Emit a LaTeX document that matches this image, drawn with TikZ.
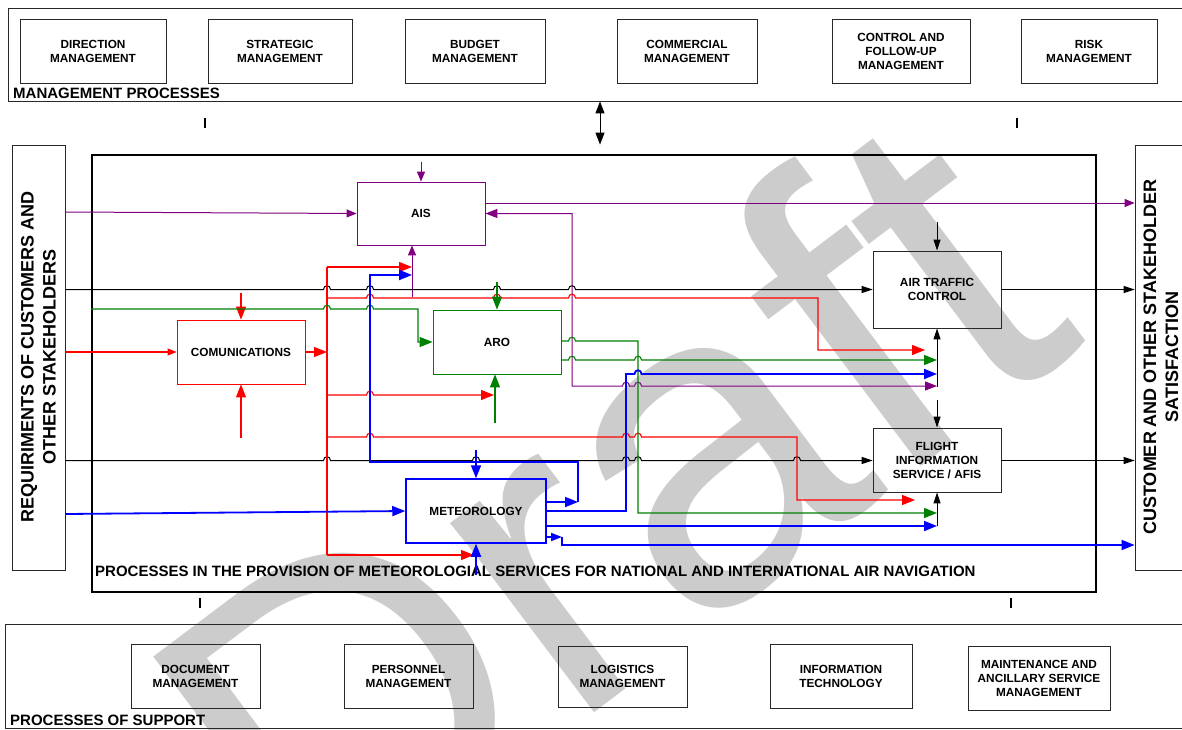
\documentclass[tikz,border=0pt]{standalone}
\usepackage{fontspec}
\setmainfont{Liberation Sans}
\usetikzlibrary{arrows.meta,calc}
\definecolor{pur}{RGB}{128,0,128}
\definecolor{grn}{RGB}{0,128,0}
\definecolor{blu}{RGB}{0,0,255}
\definecolor{rd}{RGB}{255,0,0}
\definecolor{wm}{RGB}{204,204,204}
\definecolor{frm}{RGB}{40,40,40}
\begin{document}
\begin{tikzpicture}[x=1pt,y=-1pt,
  box/.style={draw=frm, line width=0.8pt, inner sep=0pt, align=center,
    font=\bfseries\fontsize{11.8}{14}\selectfont},
  cont/.style={draw=frm, line width=0.8pt, inner sep=0pt},
  big/.style={font=\bfseries\fontsize{15}{18}\selectfont, inner sep=0pt},
  side/.style={font=\bfseries\fontsize{18}{22}\selectfont, align=center, rotate=90},
  bk/.style={draw=black, line width=1pt},
  pl/.style={draw=pur, line width=1pt},
  rl/.style={draw=rd, line width=1.1pt},
  gl/.style={draw=grn, line width=1.1pt},
  bl/.style={draw=blu, line width=1.8pt},
  ab/.style={-{Triangle[length=11pt,width=7pt]}},
  ac/.style={-{Triangle[length=13pt,width=10pt]}},
  as/.style={-{Triangle[length=10pt,width=8pt]}}]
\useasboundingbox (0,0) rectangle (1182,730);

% watermark
\node[text=wm, rotate=37, font=\fontsize{450}{450}\selectfont, inner sep=0pt] (wmk) at (603,505) {Draft};

% containers
\node[cont, minimum width=1182, minimum height=93] (mgmt) at (599,54.5) {};
\node[cont, minimum width=1185, minimum height=104] (supp) at (597.5,676) {};
\node[cont, minimum width=53, minimum height=425] (lbox) at (38.5,357.5) {};
\node[cont, minimum width=55, minimum height=425] (rbox) at (1162.5,357.5) {};
\node[draw=black, line width=1.6pt, inner sep=0pt, minimum width=1004, minimum height=437] (main) at (594,373.5) {};

\node[big, anchor=base west] (mgmtl) at (13,99) {MANAGEMENT PROCESSES};
\node[big, anchor=base west] (suppl) at (10,725) {PROCESSES OF SUPPORT};
\node[big, anchor=base west] (mainl) at (95,576) {PROCESSES IN THE PROVISION OF METEOROLOGIAL SERVICES FOR NATIONAL AND INTERNATIONAL AIR NAVIGATION};
\node[side] (lt) at (38.5,357) {REQUIRIMENTS OF CUSTOMERS AND\\OTHER STAKEHOLDERS};
\node[side] (rt) at (1161,357) {CUSTOMER AND OTHER STAKEHOLDER\\SATISFACTION};

% management boxes
\node[box, minimum width=146, minimum height=64] (dir) at (93,51) {DIRECTION\\MANAGEMENT};
\node[box, minimum width=144, minimum height=64] (str) at (280,51) {STRATEGIC\\MANAGEMENT};
\node[box, minimum width=140, minimum height=64] (bud) at (475,51) {BUDGET\\MANAGEMENT};
\node[box, minimum width=140, minimum height=64] (com) at (687,51) {COMMERCIAL\\MANAGEMENT};
\node[box, minimum width=138, minimum height=64] (ctl) at (901,51) {CONTROL AND\\FOLLOW-UP\\MANAGEMENT};
\node[box, minimum width=136, minimum height=64] (risk) at (1089,51) {RISK\\MANAGEMENT};

% support boxes
\node[box, minimum width=129, minimum height=64] (doc) at (195.5,676) {DOCUMENT\\MANAGEMENT};
\node[box, minimum width=129, minimum height=64] (per) at (408.5,676) {PERSONNEL\\MANAGEMENT};
\node[box, minimum width=129, minimum height=61] (log) at (622.5,676.5) {LOGISTICS\\MANAGEMENT};
\node[box, minimum width=142, minimum height=64] (it) at (841,676) {INFORMATION\\TECHNOLOGY};
\node[box, minimum width=142, minimum height=64] (mnt) at (1039,678) {MAINTENANCE AND\\ANCILLARY SERVICE\\MANAGEMENT};

% ticks and double arrow
\draw[bk, line width=1.2pt] (205,118) -- (205,128);
\draw[bk, line width=1.2pt] (1017,118) -- (1017,128);
\draw[bk, line width=1.2pt] (200,598) -- (200,608);
\draw[bk, line width=1.2pt] (1011,598) -- (1011,608);
\draw[bk, {Triangle[length=12pt,width=9pt]}-{Triangle[length=12pt,width=9pt]}] (mgmt.south -| 600,0) -- (600,0 |- rbox.north);

% process boxes
\node[box, draw=pur, minimum width=128, minimum height=63] (ais) at (421,213.5) {AIS};
\node[box, minimum width=128, minimum height=77] (atc) at (937,289.5) {AIR TRAFFIC\\CONTROL};
\node[box, draw=rd, minimum width=128, minimum height=64] (comm) at (241,352) {COMUNICATIONS};
\node[box, draw=grn, minimum width=128, minimum height=64] (aro) at (497,342) {ARO};
\node[box, minimum width=128, minimum height=64] (fis) at (937,460) {FLIGHT\\INFORMATION\\SERVICE / AFIS};
\node[box, draw=blu, line width=1.5pt, minimum width=140, minimum height=64] (met) at (476,511) {METEOROLOGY};

% purple
\draw[pl, as] (lbox.east |- 0,212) -- (ais.west);
\draw[pl, as] ($(ais.north)+(0,-20)$) -- (ais.north);
\draw[pl, as] (ais.east |- 0,203) -- (rbox.west |- 0,203);
\draw[pl, {Triangle[length=12pt,width=9pt]}-{Triangle[length=12pt,width=9pt]}] (ais.east) -- (572,213.5) -- (572,386)
  \foreach \h in {626,638}{ -- (\h-3.5,386) .. controls (\h-3.5,381) and (\h+3.5,381) .. (\h+3.5,386)} -- (937,386);
\draw[pl, as] (412,297) -- (412,0 |- ais.south);

% black
\draw[bk, ab] (lbox.east |- 0,289.5)
  \foreach \h in {327,370,497,572}{ -- (\h-3.5,289.5) .. controls (\h-3.5,284.5) and (\h+3.5,284.5) .. (\h+3.5,289.5)} -- (atc.west);
\draw[bk, ab] (atc.east) -- (rbox.west |- atc.east);
\draw[bk, ab] ($(atc.north)+(0,-29)$) -- (atc.north);
\draw[bk, ab] (937,387) -- (atc.south);
\draw[bk, ab] (937,400) -- (fis.north);
\draw[bk, ab] (lbox.east |- 0,460.5)
  \foreach \h in {327,476,626,638,797}{ -- (\h-3.5,460.5) .. controls (\h-3.5,455.5) and (\h+3.5,455.5) .. (\h+3.5,460.5)} -- (fis.west |- 0,460.5);
\draw[bk, ab] (fis.east |- 0,460.5) -- (rbox.west |- 0,460.5);
\draw[bk, ab] (937,526) -- (fis.south);

% red
\draw[rl] (327,267) -- (327,555);
\draw[rl, ac] (327,267) -- (412,267);
\draw[rl, ac] (comm.east) -- (327,352);
\draw[rl, ac] (327,298)
  \foreach \h in {370,497,572}{ -- (\h-3.5,298) .. controls (\h-3.5,293) and (\h+3.5,293) .. (\h+3.5,298)} -- (818,298) -- (818,350) -- (925,350);
\draw[rl, ac] (327,395) -- (366.5,395) .. controls (366.5,390) and (373.5,390) .. (373.5,395) -- (494,395);
\draw[rl, ac] (327,437)
  \foreach \h in {370,626,638}{ -- (\h-3.5,437) .. controls (\h-3.5,432) and (\h+3.5,432) .. (\h+3.5,437)} -- (797,437) -- (797,500) -- (915,500);
\draw[rl, ac] (327,555) -- (474,555);
\draw[rl, -{Triangle[length=9pt,width=7pt]}] (lbox.east |- comm.west) -- (comm.west);
\draw[rl, ac] ($(comm.north)+(0,-27)$) -- (comm.north);
\draw[rl, ac] ($(comm.south)+(0,54)$) -- (comm.south);

% green
\draw[gl, ac] (main.west |- 0,309)
  \foreach \h in {327,370}{ -- (\h-3.5,309) .. controls (\h-3.5,304) and (\h+3.5,304) .. (\h+3.5,309)} -- (418,309) -- (418,0 |- aro.west) -- (aro.west);
\draw[gl, ac] ($(aro.north)+(0,-28)$) -- (aro.north);
\draw[gl, ac] (495,423) -- (495,0 |- aro.south);
\draw[gl, ac] (aro.east |- 0,341) -- (568.5,341) .. controls (568.5,336) and (575.5,336) .. (575.5,341) -- (638,341) -- (638,513) -- (937,513);
\draw[gl, ac] (aro.east |- 0,360)
  \foreach \h in {572,638}{ -- (\h-3.5,360) .. controls (\h-3.5,355) and (\h+3.5,355) .. (\h+3.5,360)} -- (937,360);

% blue
\draw[bl, ac] (lbox.east |- 0,514) -- (met.west);
\draw[bl, ac] (met.east |- 0,502) -- (578,502);
\draw[bl, ac] (578,502) -- (578,462) -- (370,462) -- (370,275) -- (412,275);
\draw[bl, ac] (476,450) -- (met.north);
\draw[bl, ac] (met.east) -- (626,511) -- (626,374) -- (634.5,374) .. controls (634.5,369) and (641.5,369) .. (641.5,374) -- (937,374);
\draw[bl, ac] (met.east |- 0,526) -- (937,526);
\draw[bl, -{Triangle[length=11pt,width=8pt]}] (met.east |- 0,537) -- (562,537);
\draw[bl, ac] (562,537) -- (562,545) -- (rbox.west |- 0,545);
\draw[bl, ac] (476,575) -- (met.south);
\end{tikzpicture}
\end{document}
